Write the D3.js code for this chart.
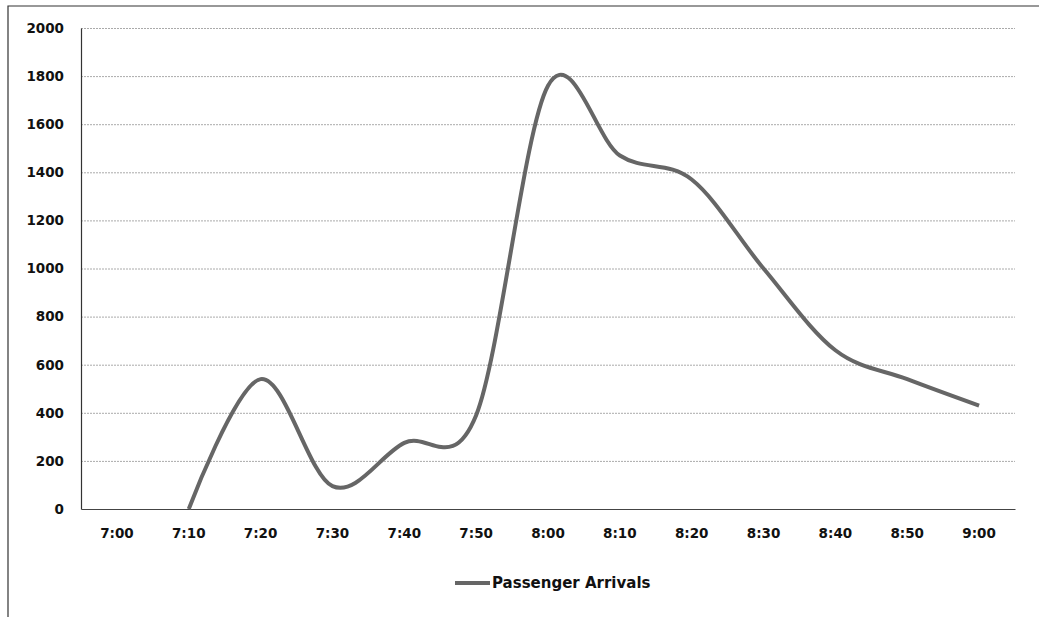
<!DOCTYPE html>
<html>
<head>
<meta charset="utf-8">
<script src="https://cdn.jsdelivr.net/npm/d3@7"></script>
<style>
  body { margin: 0; background: #fff; }
  svg { display: block; }
</style>
</head>
<body>
<div id="chart"></div>
<script>
// Passenger arrivals per 10 minutes (Excel-style smoothed line)
const categories = ["7:00", "7:10", "7:20", "7:30", "7:40", "7:50", "8:00",
                    "8:10", "8:20", "8:30", "8:40", "8:50", "9:00"];
const arrivals = [null, 0, 540, 95, 275, 390, 1760, 1470, 1370, 1000, 660, 540, 430];
const yTicks = [0, 200, 400, 600, 800, 1000, 1200, 1400, 1600, 1800, 2000];
const seriesName = "Passenger Arrivals";

const width = 1039, height = 617;
const plot = { left: 81, right: 1015, top: 28, bottom: 509 };

const svg = d3.select("#chart")
  .append("svg")
  .attr("width", width)
  .attr("height", height);

// outer frame (scanned chart border, left and top only)
svg.append("path")
  .attr("d", `M8,${height} L8,6 L${width},6`)
  .attr("fill", "none")
  .attr("stroke", "#333")
  .attr("stroke-width", 1.2);

const x = d3.scaleBand()
  .domain(categories)
  .range([plot.left, plot.right]);

const y = d3.scaleLinear()
  .domain([0, 2000])
  .range([plot.bottom, plot.top]);

// gridlines
svg.append("g")
  .selectAll("line")
  .data(yTicks.filter(d => d > 0))
  .join("line")
  .attr("x1", plot.left)
  .attr("x2", plot.right)
  .attr("y1", d => y(d) + 0.5)
  .attr("y2", d => y(d) + 0.5)
  .attr("stroke", "#aaa")
  .attr("stroke-width", 1)
  .attr("stroke-dasharray", "2,1");

// y axis
const yAxis = svg.append("g")
  .attr("transform", `translate(${plot.left},0)`)
  .call(d3.axisLeft(y).tickValues(yTicks).tickFormat(d3.format("d")).tickSize(0).tickPadding(17));
yAxis.select(".domain").attr("stroke", "#333").attr("stroke-width", 1.2);
yAxis.selectAll("text")
  .attr("font-family", "DejaVu Sans, sans-serif")
  .attr("font-weight", "bold")
  .attr("font-size", "13.5px")
  .attr("fill", "#111");

// x axis
const xAxis = svg.append("g")
  .attr("transform", `translate(0,${plot.bottom})`)
  .call(d3.axisBottom(x).tickSize(0).tickPadding(19));
xAxis.select(".domain").attr("stroke", "#444").attr("stroke-width", 1.2);
xAxis.selectAll("text")
  .attr("font-family", "DejaVu Sans, sans-serif")
  .attr("font-weight", "bold")
  .attr("font-size", "13.5px")
  .attr("fill", "#111");

// smoothed line
const pts = categories
  .map((c, i) => ({ c, v: arrivals[i] }))
  .filter(d => d.v !== null);

const line = d3.line()
  .x(d => x(d.c) + x.bandwidth() / 2)
  .y(d => y(d.v))
  .curve(d3.curveCardinal.tension(0));

svg.append("path")
  .datum(pts)
  .attr("d", line)
  .attr("fill", "none")
  .attr("stroke", "#666")
  .attr("stroke-width", 4)
  .attr("stroke-linejoin", "round");

// legend
const lg = svg.append("g").attr("transform", "translate(455,583)");
lg.append("line")
  .attr("x1", 0).attr("x2", 35)
  .attr("stroke", "#666")
  .attr("stroke-width", 4);
lg.append("text")
  .attr("x", 37)
  .attr("dy", "0.35em")
  .attr("font-family", "DejaVu Sans, sans-serif")
  .attr("font-weight", "bold")
  .attr("font-size", "15px")
  .attr("fill", "#111")
  .text(seriesName);
</script>
</body>
</html>
